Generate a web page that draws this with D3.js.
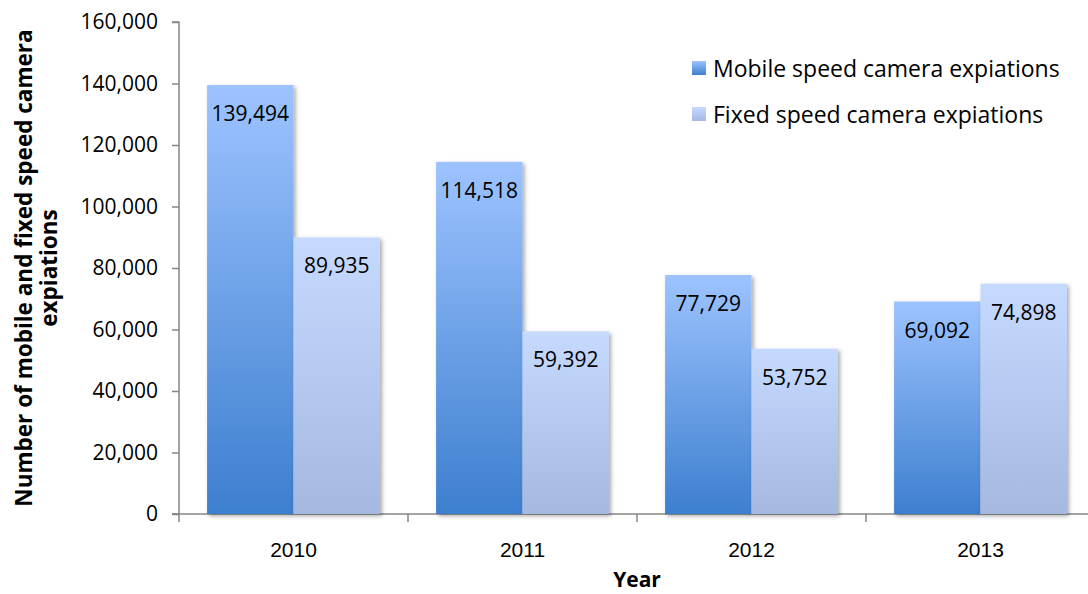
<!DOCTYPE html>
<html><head><meta charset="utf-8">
<script src="https://cdn.jsdelivr.net/npm/d3@7"></script>
<style>
body{margin:0;background:#fff;}
svg{display:block;font-family:"Open Sans",sans-serif;}
</style></head>
<body><svg id="chart" width="1088" height="594"></svg>
<script>
const years = ["2010","2011","2012","2013"];
const mobileValues = [139494,114518,77729,69092];
const fixedValues = [89935,59392,53752,74898];
const seriesNames = ["Mobile speed camera expiations","Fixed speed camera expiations"];
const yTicks = [0,20000,40000,60000,80000,100000,120000,140000,160000];

const svg = d3.select("#chart");
const mLeft = 179, mRight = 1095, mTop = 22, mBottom = 514;
const x = d3.scaleBand().domain(years).range([mLeft,mRight]).paddingInner(0).paddingOuter(0);
const x1 = d3.scaleBand().domain([0,1]).range([0,x.bandwidth()]).paddingOuter(0.325).paddingInner(0);
const y = d3.scaleLinear().domain([0,160000]).range([mBottom,mTop]);
const fmt = d3.format(",");

const defs = svg.append("defs");
function grad(id, c1, c2){
  const g = defs.append("linearGradient").attr("id",id).attr("x1",0).attr("y1",0).attr("x2",0).attr("y2",1);
  g.append("stop").attr("offset","0%").attr("stop-color",c1);
  g.append("stop").attr("offset","100%").attr("stop-color",c2);
}
grad("gMobile","#9dc3ff","#3d7fcf");
grad("gFixed","#c6d9ff","#a5b8e0");
const f = defs.append("filter").attr("id","shadow").attr("x","-10%").attr("y","-10%").attr("width","130%").attr("height","130%");
f.append("feDropShadow").attr("dx",2).attr("dy",2).attr("stdDeviation",2).attr("flood-color","#000").attr("flood-opacity",0.35);

const data = years.map((yr,i)=>({year:yr, vals:[mobileValues[i],fixedValues[i]]}));
const fills = ["url(#gMobile)","url(#gFixed)"];

// axes
const yAxis = svg.append("g").attr("transform",`translate(${mLeft},0)`)
  .call(d3.axisLeft(y).tickValues(yTicks).tickFormat(fmt).tickSize(7).tickPadding(14));
const xAxis = svg.append("g").attr("transform",`translate(0,${mBottom})`)
  .call(d3.axisBottom(x).tickSize(0).tickPadding(35));
xAxis.selectAll(".tick").remove();
xAxis.selectAll(".cat").data(years).join("text").attr("class","cat")
  .attr("x",d=>x(d)+x.bandwidth()/2).attr("y",35).attr("text-anchor","middle")
  .attr("dominant-baseline","central").attr("font-size",21).attr("fill","#000").text(d=>d);
xAxis.selectAll(".btick").data(years.concat(["end"])).join("line").attr("class","btick")
  .attr("x1",(d,i)=>mLeft+i*x.bandwidth()).attr("x2",(d,i)=>mLeft+i*x.bandwidth())
  .attr("y1",0).attr("y2",8).attr("stroke","#868686").attr("stroke-width",1.5);
[yAxis,xAxis].forEach(a=>{
  a.select(".domain").attr("stroke","#868686").attr("stroke-width",1.5);
  a.selectAll(".tick line").attr("stroke","#868686").attr("stroke-width",1.5);
  a.selectAll(".tick text").attr("font-size",21).attr("fill","#000").attr("font-family","Open Sans");
});
yAxis.select(".domain").attr("d",`M-7,${mTop}H0V${mBottom}H-7`);
xAxis.select(".domain").attr("d",`M${mLeft-7},0H${mRight}`);

const groups = svg.append("g").selectAll("g").data(data).join("g")
  .attr("transform",d=>`translate(${x(d.year)},0)`);
groups.selectAll("rect").data(d=>d.vals.map((v,k)=>({v,k}))).join("rect")
  .attr("x",d=>x1(d.k)).attr("width",x1.bandwidth())
  .attr("y",d=>y(d.v)).attr("height",d=>y(0)-y(d.v))
  .attr("fill",d=>fills[d.k]).attr("filter","url(#shadow)");
groups.selectAll("text").data(d=>d.vals.map((v,k)=>({v,k}))).join("text")
  .attr("x",d=>x1(d.k)+x1.bandwidth()/2).attr("y",d=>y(d.v)+28)
  .attr("text-anchor","middle").attr("dominant-baseline","central")
  .attr("font-size",21).attr("fill","#000").text(d=>fmt(d.v));

// axis titles
svg.append("text").attr("transform","translate(32,268) rotate(-90)")
  .attr("text-anchor","middle").attr("font-weight","bold").attr("font-size",22.5)
  .text("Number of mobile and fixed speed camera");
svg.append("text").attr("transform","translate(57,268) rotate(-90)")
  .attr("text-anchor","middle").attr("font-weight","bold").attr("font-size",22.5)
  .text("expiations");
svg.append("text").attr("x",637).attr("y",587).attr("text-anchor","middle")
  .attr("font-weight","bold").attr("font-size",21).text("Year");

// legend
const lg = svg.append("g").selectAll("g").data(seriesNames).join("g")
  .attr("transform",(d,i)=>`translate(692,${61+i*46})`);
lg.append("rect").attr("width",14).attr("height",14).attr("fill",(d,i)=>fills[i]);
lg.append("text").attr("x",21).attr("y",7).attr("dominant-baseline","central")
  .attr("font-size",23).text(d=>d);
</script></body></html>
